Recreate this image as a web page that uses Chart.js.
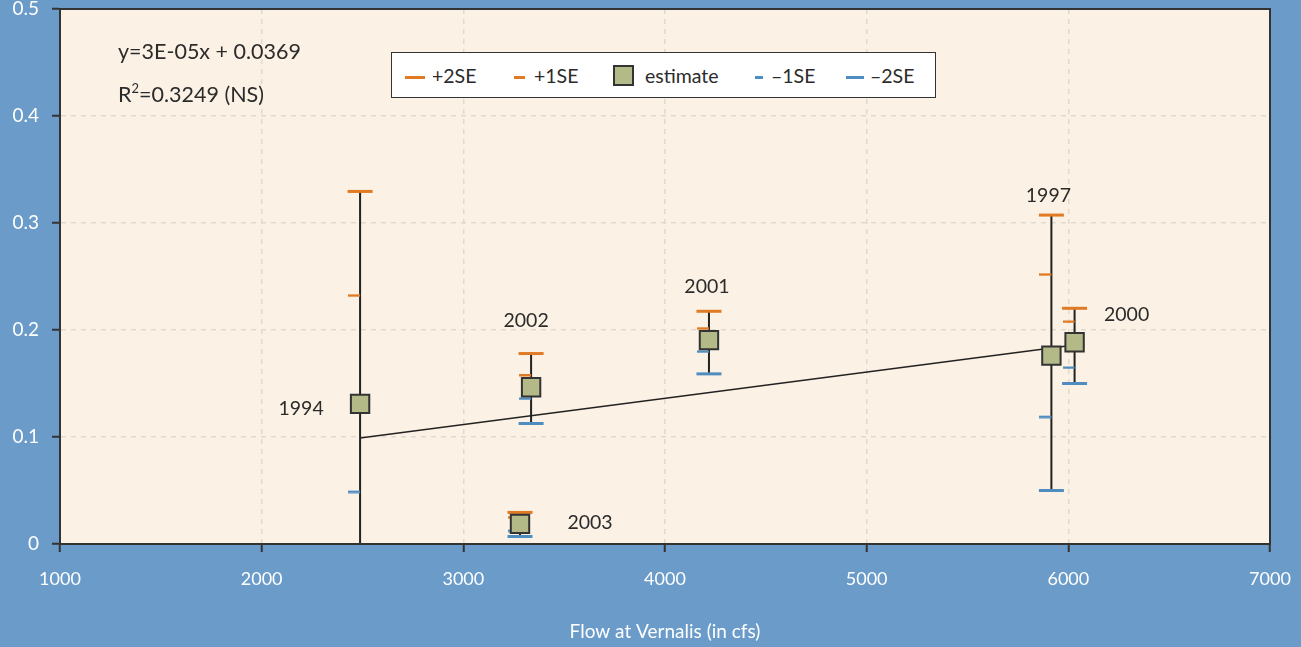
<!DOCTYPE html>
<html>
<head>
<meta charset="utf-8">
<script src="https://cdn.jsdelivr.net/npm/chart.js@4"></script>
<style>
html,body{margin:0;padding:0;background:#6a9bc9;}
#wrap{position:relative;width:1301px;height:647px;overflow:hidden;}
#c{position:absolute;left:0;top:0;}
.t{position:absolute;font-family:Lato,"Open Sans",sans-serif;color:#2b2b2b;white-space:nowrap;}
#eq1{left:118px;top:38px;font-size:21.5px;line-height:26px;}
#eq2{left:118px;top:81px;font-size:21.5px;line-height:26px;}
#eq2 sup{font-size:13px;vertical-align:9px;line-height:0;}
#legend{position:absolute;left:391px;top:52px;width:545px;height:46px;background:#fff;border:1px solid #333;box-sizing:border-box;}
#legend .t{font-size:19.5px;line-height:22px;top:12px;}
#legend .ln{position:absolute;height:3px;top:23px;}
#legend .bx{position:absolute;left:221px;top:12px;width:17px;height:17px;background:#b3b987;border:2px solid #333;}
</style>
</head>
<body>
<div id="wrap">
<canvas id="c" width="1301" height="647"></canvas>
<div class="t" id="eq1">y=3E-05x + 0.0369</div>
<div class="t" id="eq2">R<sup>2</sup>=0.3249 (NS)</div>
<div id="legend">
  <div class="ln" style="left:13px;width:20px;background:#e07a24;"></div>
  <div class="t" style="left:40px;">+2SE</div>
  <div class="ln" style="left:122px;width:11px;background:#e07a24;"></div>
  <div class="t" style="left:142px;">+1SE</div>
  <div class="bx"></div>
  <div class="t" style="left:253px;">estimate</div>
  <div class="ln" style="left:363px;width:8px;background:#4f8cc0;"></div>
  <div class="t" style="left:379px;">&ndash;1SE</div>
  <div class="ln" style="left:454px;width:18px;background:#4f8cc0;"></div>
  <div class="t" style="left:478px;">&ndash;2SE</div>
</div>
</div>
<script>
// ---- data ----
const years    = ['1994', '2002', '2003', '2001', '1997', '2000'];
const flow     = [2488, 3336, 3281, 4218, 5916, 6031];
const estimate = [0.131, 0.1465, 0.0188, 0.1905, 0.176, 0.1886];
const plus2SE  = [0.3295, 0.178, 0.0295, 0.2175, 0.3074, 0.2203];
const plus1SE  = [0.2324, 0.158, 0.025, 0.2016, 0.252, 0.208];
const minus1SE = [0.049, 0.136, 0.0125, 0.180, 0.119, 0.165];
const minus2SE = [-0.035, 0.1126, 0.007, 0.159, 0.05, 0.150];
const trendX   = [2488, 6031];
const trendY   = [0.099, 0.186];
const xTickLabels = ['1000', '2000', '3000', '4000', '5000', '6000', '7000'];
const yTickLabels = ['0', '0.1', '0.2', '0.3', '0.4', '0.5'];
const xTitle = 'Flow at Vernalis (in cfs)';

// ---- styling (kept apart from data) ----
const ORANGE = '#e07a24', BLUE = '#4f8cc0', DARK = '#2b2b2b';
const labelOffsets = [[-59, 5], [-5, -67], [70, -1], [-2, -53], [-3, -160], [52, -27]];

function halfDash(color, w) {
  const c = document.createElement('canvas');
  c.width = 24; c.height = 4;
  const g = c.getContext('2d');
  g.fillStyle = color;
  g.fillRect(0, 1, 12, w);
  return c;
}

const pts = (ys) => flow.map((x, i) => ({x: x, y: ys[i]}));
const whiskers = [];
flow.forEach((x, i) => {
  whiskers.push({x: x, y: minus2SE[i]}, {x: x, y: plus2SE[i]}, {x: x, y: null});
});

const plotBg = {
  id: 'plotBg',
  beforeDraw(chart) {
    const {ctx, chartArea: a} = chart;
    ctx.save();
    ctx.fillStyle = '#fbf2e5';
    ctx.fillRect(a.left, a.top, a.right - a.left, a.bottom - a.top);
    ctx.restore();
  },
  afterDraw(chart) {
    const {ctx, chartArea: a} = chart;
    ctx.save();
    ctx.strokeStyle = '#333';
    ctx.lineWidth = 2;
    ctx.strokeRect(a.left, a.top, a.right - a.left, a.bottom - a.top);
    ctx.restore();
  }
};

const yearLabels = {
  id: 'yearLabels',
  afterDatasetsDraw(chart) {
    const {ctx, scales} = chart;
    ctx.save();
    ctx.font = '19.5px Lato, "Open Sans", sans-serif';
    ctx.fillStyle = DARK;
    ctx.textAlign = 'center';
    ctx.textBaseline = 'middle';
    years.forEach((yr, i) => {
      const px = scales.x.getPixelForValue(flow[i]) + labelOffsets[i][0];
      const py = scales.y.getPixelForValue(estimate[i]) + labelOffsets[i][1];
      ctx.fillText(yr, px, py);
    });
    ctx.restore();
  }
};

function build() {
  Chart.defaults.font.family = 'Lato, "Open Sans", sans-serif';
  new Chart(document.getElementById('c'), {
    type: 'scatter',
    data: {
      datasets: [
        {label: 'estimate', data: pts(estimate), order: 0, pointStyle: 'rect', pointRadius: 13,
         backgroundColor: '#b3b987', borderColor: '#333', borderWidth: 2, pointHoverRadius: 13},
        {label: '+2SE', data: pts(plus2SE), order: 1, pointStyle: 'line', pointRadius: 12.5,
         borderColor: ORANGE, borderWidth: 3, pointHoverRadius: 12.5},
        {label: '+1SE', data: pts(plus1SE), order: 1, pointStyle: halfDash(ORANGE, 2.5), pointRadius: 12},
        {label: '-1SE', data: pts(minus1SE), order: 1, pointStyle: halfDash(BLUE, 2.5), pointRadius: 12},
        {label: '-2SE', data: pts(minus2SE), order: 1, pointStyle: 'line', pointRadius: 12.5,
         borderColor: BLUE, borderWidth: 3, pointHoverRadius: 12.5, clip: 0},
        {label: 'trend', data: trendX.map((x, i) => ({x: x, y: trendY[i]})), order: 2, showLine: true,
         borderColor: '#222', borderWidth: 1.5, pointRadius: 0},
        {label: 'whiskers', data: whiskers, order: 3, showLine: true, spanGaps: false,
         borderColor: '#222', borderWidth: 2, pointRadius: 0, clip: 0}
      ]
    },
    options: {
      responsive: false,
      animation: false,
      events: [],
      layout: {autoPadding: false, padding: {top: 9, right: 31, left: 0, bottom: 0}},
      plugins: {legend: {display: false}, tooltip: {enabled: false}},
      scales: {
        x: {
          type: 'linear', min: 1000, max: 7000,
          afterFit(s) { s.height = 103; s.paddingLeft = 0; s.paddingRight = 0; },
          ticks: {stepSize: 1000, color: '#fff', font: {size: 18}, padding: 16,
                  callback: (v, i) => xTickLabels[i]},
          grid: {color: '#dfd9cf', lineWidth: 1.5, tickColor: '#333', tickLength: 8, tickWidth: 2, tickBorderDash: []},
          border: {color: '#333', width: 2, dash: [5, 5]},
          title: {display: true, text: xTitle, color: '#fff', font: {size: 19}, padding: {top: 4, bottom: 4}}
        },
        y: {
          type: 'linear', min: 0, max: 0.5,
          afterFit(s) { s.width = 60; s.paddingTop = 0; s.paddingBottom = 0; },
          ticks: {stepSize: 0.1, color: '#fff', font: {size: 19}, padding: 13,
                  callback: (v, i) => yTickLabels[i]},
          grid: {color: '#dfd9cf', lineWidth: 1.5, tickColor: '#333', tickLength: 8, tickWidth: 2, tickBorderDash: []},
          border: {color: '#333', width: 2, dash: [5, 5]}
        }
      }
    },
    plugins: [plotBg, yearLabels]
  });
}

if (document.fonts && document.fonts.load) {
  Promise.all([document.fonts.load('18px Lato'), document.fonts.load('20px Lato')]).then(build, build);
} else {
  build();
}
</script>
</body>
</html>
